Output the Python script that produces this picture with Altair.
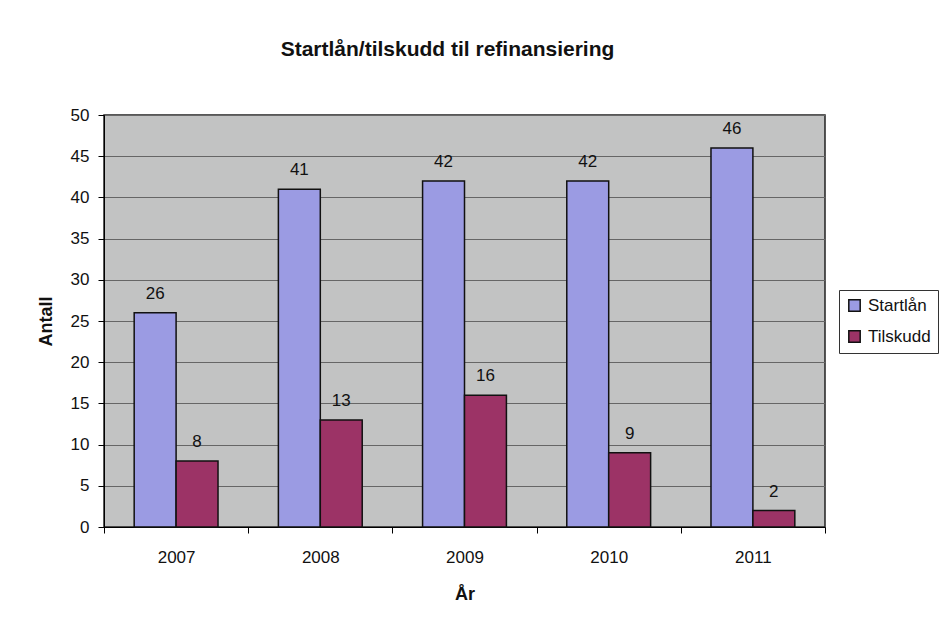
import altair as alt
import pandas as pd

years = ["2007", "2008", "2009", "2010", "2011"]
startlan = [26, 41, 42, 42, 46]
tilskudd = [8, 13, 16, 9, 2]
series = ["Startlån", "Tilskudd"]
colors = ["#9B9BE3", "#9C3366"]
y_ticks = [0, 5, 10, 15, 20, 25, 30, 35, 40, 45, 50]

rows = []
for i, yr in enumerate(years):
    rows.append({"År": yr, "Serie": series[0], "Antall": startlan[i]})
    rows.append({"År": yr, "Serie": series[1], "Antall": tilskudd[i]})
df = pd.DataFrame(rows)

FONT = "Liberation Sans"

x_enc = alt.X(
    "År:N",
    sort=years,
    scale=alt.Scale(paddingInner=0, paddingOuter=0),
    axis=alt.Axis(
        title="År",
        labelAngle=0,
        tickBand="extent",
        domainColor="black",
        tickColor="black",
        tickSize=6,
        labelPadding=16,
        labelFontSize=17,
        labelColor="#111",
        labelFont=FONT,
        titleFont=FONT,
        titleFontSize=18,
        titleFontWeight="bold",
        titleColor="#111",
        titleY=67,
        titleBaseline="middle",
        grid=False,
    ),
)
xo_enc = alt.XOffset(
    "Serie:N",
    sort=series,
    scale=alt.Scale(domain=series, paddingInner=0, paddingOuter=0.72),
)
y_enc = alt.Y(
    "Antall:Q",
    scale=alt.Scale(domain=[0, 50], nice=False),
    axis=alt.Axis(
        title="Antall",
        values=y_ticks,
        domainColor="black",
        tickColor="black",
        tickSize=6,
        labelPadding=9,
        labelFontSize=17,
        labelColor="#111",
        labelFont=FONT,
        titleFont=FONT,
        titleFontSize=18,
        titleFontWeight="bold",
        titleColor="#111",
        titleX=-58,
        titleY=206,
        titleAlign="center",
        titleBaseline="middle",
        grid=True,
        gridColor="#666666",
        gridWidth=1,
    ),
)

bars = alt.Chart(df).mark_bar(stroke="#111", strokeWidth=1.5).encode(
    x=x_enc,
    xOffset=xo_enc,
    y=y_enc,
    color=alt.Color(
        "Serie:N",
        sort=series,
        scale=alt.Scale(domain=series, range=colors),
        legend=alt.Legend(
            title=None,
            orient="none",
            legendX=735,
            legendY=175,
            symbolType="square",
            symbolSize=130,
            symbolStrokeColor="#111",
            symbolStrokeWidth=1.5,
            labelFont=FONT,
            labelFontSize=17,
            labelColor="#111",
            labelOffset=5,
            rowPadding=12,
            padding=7,
            strokeColor="#333",
            fillColor="white",
            labelLimit=200,
        ),
    ),
)

labels = alt.Chart(df).mark_text(
    baseline="bottom", dy=-10, fontSize=17, font=FONT, color="#111"
).encode(x=x_enc, xOffset=xo_enc, y=y_enc, text="Antall:Q")

chart = (
    alt.layer(bars, labels)
    .properties(
        width=721,
        height=412,
        autosize=alt.AutoSizeParams(type="none"),
        padding={"left": 104, "top": 115, "right": 115, "bottom": 94},
        title=alt.TitleParams(
            "Startlån/tilskudd til refinansiering",
            font=FONT,
            fontSize=21,
            fontWeight="bold",
            color="#111",
            anchor="middle",
            dx=-17,
            offset=46,
        ),
        background="white",
    )
    .configure_view(fill="#C2C3C3", stroke="#222", strokeWidth=1.5)
)

chart.save("out.html", embed_options={"renderer": "svg", "actions": False})
